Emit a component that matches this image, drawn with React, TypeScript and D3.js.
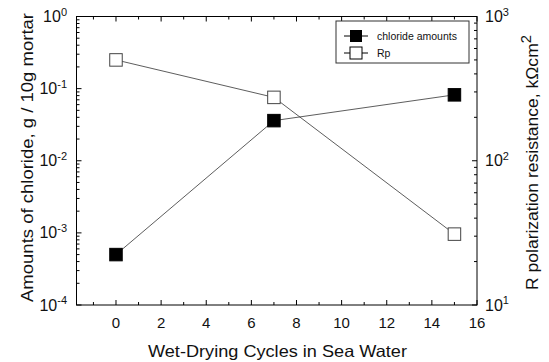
import React from "react";
import * as d3 from "d3";

const cycles = [0, 7, 15];
const chloride = [5e-4, 0.036, 0.082];
const rp = [500, 275, 31];
const xTicks = [0, 2, 4, 6, 8, 10, 12, 14, 16];
const leftExps = [0, -1, -2, -3, -4];
const rightExps = [3, 2, 1];

const W = 549, H = 362;
const L = 76.5, R = 477, T = 16.5, B = 305;
const font = "Liberation Sans, Arial, sans-serif";

export default function App() {
  const x = d3.scaleLinear().domain([-1.75, 16]).range([L, R]);
  const yl = d3.scaleLog().domain([1e-4, 1]).range([B, T]);
  const yr = d3.scaleLog().domain([10, 1000]).range([B, T]);
  const lineL = d3.line<number>().x((_, i) => x(cycles[i])).y((d) => yl(d));
  const lineR = d3.line<number>().x((_, i) => x(cycles[i])).y((d) => yr(d));
  const minorL: number[] = [];
  for (let e = -4; e < 0; e++) for (let m = 2; m <= 9; m++) minorL.push(m * Math.pow(10, e));
  const minorR: number[] = [];
  for (let e = 1; e < 3; e++) for (let m = 2; m <= 9; m++) minorR.push(m * Math.pow(10, e));
  const xMinor = d3.range(-1, 16, 1).filter((v) => !xTicks.includes(v));
  const s = 12.5;
  return (
    <svg width={W} height={H} style={{ position: "absolute", left: 0, top: 0, background: "#fff" }} fontFamily={font}>
      <rect x={L} y={T} width={R - L} height={B - T} fill="none" stroke="#000" strokeWidth={1} />
      {/* x ticks */}
      {xTicks.map((v) => (
        <g key={"xt" + v}>
          <line x1={x(v)} x2={x(v)} y1={B} y2={B - 5} stroke="#000" />
          <line x1={x(v)} x2={x(v)} y1={T} y2={T + 5} stroke="#000" />
          <text x={x(v)} y={B + 23} fontSize={15} textAnchor="middle" fill="#111">{v}</text>
        </g>
      ))}
      {xMinor.map((v) => (
        <g key={"xm" + v}>
          <line x1={x(v)} x2={x(v)} y1={B} y2={B - 3} stroke="#000" />
          <line x1={x(v)} x2={x(v)} y1={T} y2={T + 3} stroke="#000" />
        </g>
      ))}
      {/* left ticks */}
      {leftExps.map((e) => (
        <g key={"yl" + e}>
          <line x1={L} x2={L + 5} y1={yl(Math.pow(10, e))} y2={yl(Math.pow(10, e))} stroke="#000" />
          <text x={L - 9.5} y={yl(Math.pow(10, e)) + 5.5} fontSize={16} textAnchor="end" fill="#111">
            10<tspan fontSize={11} dy={-6.5}>{e}</tspan>
          </text>
        </g>
      ))}
      {minorL.map((v, i) => (
        <line key={"ml" + i} x1={L} x2={L + 3} y1={yl(v)} y2={yl(v)} stroke="#000" />
      ))}
      {/* right ticks */}
      {rightExps.map((e) => (
        <g key={"yr" + e}>
          <line x1={R} x2={R - 5} y1={yr(Math.pow(10, e))} y2={yr(Math.pow(10, e))} stroke="#000" />
          <text x={R + 8} y={yr(Math.pow(10, e)) + 5.5} fontSize={16} textAnchor="start" fill="#111">
            10<tspan fontSize={11} dy={-6.5}>{e}</tspan>
          </text>
        </g>
      ))}
      {minorR.map((v, i) => (
        <line key={"mr" + i} x1={R} x2={R - 3} y1={yr(v)} y2={yr(v)} stroke="#000" />
      ))}
      {/* lines */}
      <path d={lineL(chloride) || ""} fill="none" stroke="#333" strokeWidth={0.8} />
      <path d={lineR(rp) || ""} fill="none" stroke="#333" strokeWidth={0.8} />
      {chloride.map((v, i) => (
        <rect key={"c" + i} x={x(cycles[i]) - s / 2} y={yl(v) - s / 2} width={s} height={s} fill="#000" stroke="#000" />
      ))}
      {rp.map((v, i) => (
        <rect key={"r" + i} x={x(cycles[i]) - s / 2} y={yr(v) - s / 2} width={s} height={s} fill="#fff" stroke="#444" />
      ))}
      {/* legend */}
      <rect x={336} y={21} width={133} height={42} fill="#fff" stroke="#333" />
      <line x1={344} x2={368} y1={36} y2={36} stroke="#000" />
      <rect x={350} y={30} width={12} height={12} fill="#000" />
      <text x={377} y={40} fontSize={10.5} fill="#111">chloride amounts</text>
      <line x1={344} x2={368} y1={53} y2={53} stroke="#000" />
      <rect x={350} y={47} width={12} height={12} fill="#fff" stroke="#000" />
      <text x={377} y={57} fontSize={10.5} fill="#111">Rp</text>
      {/* titles */}
      <text x={277.5} y={357} fontSize={16.5} textAnchor="middle" fill="#111" textLength={259} lengthAdjust="spacingAndGlyphs">
        Wet-Drying Cycles in Sea Water
      </text>
      <text transform={`translate(33,157.5) rotate(-90)`} fontSize={16.5} textAnchor="middle" fill="#111" textLength={289} lengthAdjust="spacingAndGlyphs">
        Amounts of chloride, g / 10g mortar
      </text>
      <text transform={`translate(538,162.5) rotate(-90)`} fontSize={16.5} textAnchor="middle" fill="#111" textLength={255} lengthAdjust="spacingAndGlyphs">
        R polarization resistance, kΩcm<tspan fontSize={14} dy={-7}>2</tspan>
      </text>
    </svg>
  );
}
